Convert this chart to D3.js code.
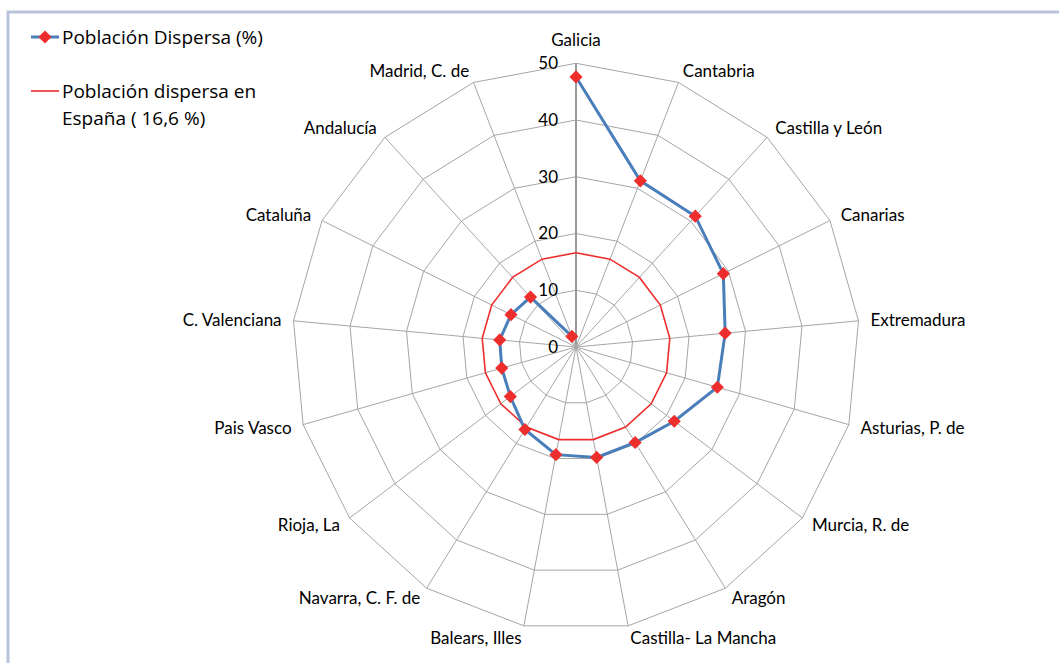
<!DOCTYPE html>
<html>
<head>
<meta charset="utf-8">
<script src="https://cdn.jsdelivr.net/npm/d3@7"></script>
<style>
body { margin: 0; background: #fff; }
svg { display: block; }
.axis-label { font-family: Lato, "Open Sans", sans-serif; font-size: 17px; fill: #000; }
.tick-label { font-family: Lato, "Open Sans", sans-serif; font-size: 17px; fill: #000; }
.legend text { font-family: "Open Sans", "Noto Sans", sans-serif; font-size: 19px; fill: #000; }
</style>
</head>
<body>
<svg id="radar" width="1059" height="663"></svg>
<script>
// datos
var regiones = ["Galicia", "Cantabria", "Castilla y León", "Canarias", "Extremadura",
  "Asturias, P. de", "Murcia, R. de", "Aragón", "Castilla- La Mancha", "Balears, Illes",
  "Navarra, C. F. de", "Rioja, La", "Pais Vasco", "C. Valenciana", "Cataluña",
  "Andalucía", "Madrid, C. de"];
var dispersa = [47.6, 31.4, 31.2, 29.0, 26.4, 25.9, 21.7, 19.8, 19.8, 19.3,
  17.1, 14.5, 13.6, 13.5, 12.8, 11.9, 2.0];
var mediaEspana = 16.6;
var ticks = [0, 10, 20, 30, 40, 50];

var svg = d3.select("#radar"),
    cx = 576, cy = 347, R = 283.7;

// marco
svg.append("path")
   .attr("d", "M8,670 L8,12 L1070,12")
   .attr("fill", "none")
   .attr("stroke", "#b9c4dc")
   .attr("stroke-width", 3);

var g = svg.append("g").attr("transform", "translate(" + cx + "," + cy + ")");

var r = d3.scaleLinear().domain([0, 50]).range([0, R]);
var ang = d3.scaleLinear().domain([0, regiones.length]).range([0, 2 * Math.PI]);

function pt(i, v) {
  var a = ang(i);
  return [r(v) * Math.sin(a), -r(v) * Math.cos(a)];
}

var radial = d3.lineRadial()
   .angle(function(d, i) { return ang(i); })
   .radius(function(d) { return r(d); })
   .curve(d3.curveLinearClosed);

// anillos
g.selectAll(".ring")
  .data(ticks.slice(1))
  .enter().append("path")
    .attr("class", "ring")
    .attr("d", function(t) { return radial(regiones.map(function() { return t; })); })
    .attr("fill", "none")
    .attr("stroke", "#a6a6a6")
    .attr("stroke-width", 1);

// radios
g.selectAll(".spoke")
  .data(regiones)
  .enter().append("line")
    .attr("class", "spoke")
    .attr("x1", 0).attr("y1", 0)
    .attr("x2", function(d, i) { return pt(i, 50)[0]; })
    .attr("y2", function(d, i) { return pt(i, 50)[1]; })
    .attr("stroke", function(d, i) { return i == 0 ? "#999" : "#a6a6a6"; })
    .attr("stroke-width", function(d, i) { return i == 0 ? 2 : 1; });

// etiquetas de valor
g.selectAll(".tick-label")
  .data(ticks)
  .enter().append("text")
    .attr("class", "tick-label")
    .attr("x", -18)
    .attr("y", function(t) { return -r(t); })
    .attr("dy", "0.35em")
    .attr("text-anchor", "end")
    .text(function(t) { return t; });

// etiquetas de regiones
g.selectAll(".axis-label")
  .data(regiones)
  .enter().append("text")
    .attr("class", "axis-label")
    .attr("x", function(d, i) { return pt(i, 50 + 12 / R * 50)[0]; })
    .attr("y", function(d, i) { return i == 0 ? -R - 23 : pt(i, 50 + 12 / R * 50)[1]; })
    .attr("dy", "0.35em")
    .attr("text-anchor", function(d, i) {
      var s = Math.sin(ang(i));
      return Math.abs(s) < 0.01 ? "middle" : (s > 0 ? "start" : "end");
    })
    .text(function(d) { return d; });

// media España
g.append("path")
  .attr("d", radial(regiones.map(function() { return mediaEspana; })))
  .attr("fill", "none")
  .attr("stroke", "#ee2d2d")
  .attr("stroke-width", 1.6);

// serie
g.append("path")
  .attr("d", d3.lineRadial()
     .angle(function(d, i) { return ang(i); })
     .radius(function(d) { return r(d); })(dispersa))
  .attr("fill", "none")
  .attr("stroke", "#4a7ebb")
  .attr("stroke-width", 3);

var diamond = d3.symbol().type(d3.symbolDiamond2).size(110);
g.selectAll(".marker")
  .data(dispersa)
  .enter().append("path")
    .attr("class", "marker")
    .attr("d", diamond)
    .attr("transform", function(d, i) { var p = pt(i, d); return "translate(" + p[0] + "," + p[1] + ")"; })
    .attr("fill", "#ee2d2d");

// leyenda
var leg = svg.append("g").attr("class", "legend");
leg.append("line").attr("x1", 31).attr("x2", 59).attr("y1", 37).attr("y2", 37)
   .attr("stroke", "#4a7ebb").attr("stroke-width", 3);
leg.append("path").attr("d", diamond)
   .attr("transform", "translate(45,37)").attr("fill", "#ee2d2d");
leg.append("text").attr("x", 62).attr("y", 37).attr("dy", "0.35em").text("Población Dispersa (%)");
leg.append("line").attr("x1", 31).attr("x2", 59).attr("y1", 91).attr("y2", 91)
   .attr("stroke", "#ee2d2d").attr("stroke-width", 1.6);
leg.append("text").attr("x", 62).attr("y", 91).attr("dy", "0.35em").text("Población dispersa en");
leg.append("text").attr("x", 62).attr("y", 118).attr("dy", "0.35em").text("España ( 16,6 %)");
</script>
</body>
</html>
